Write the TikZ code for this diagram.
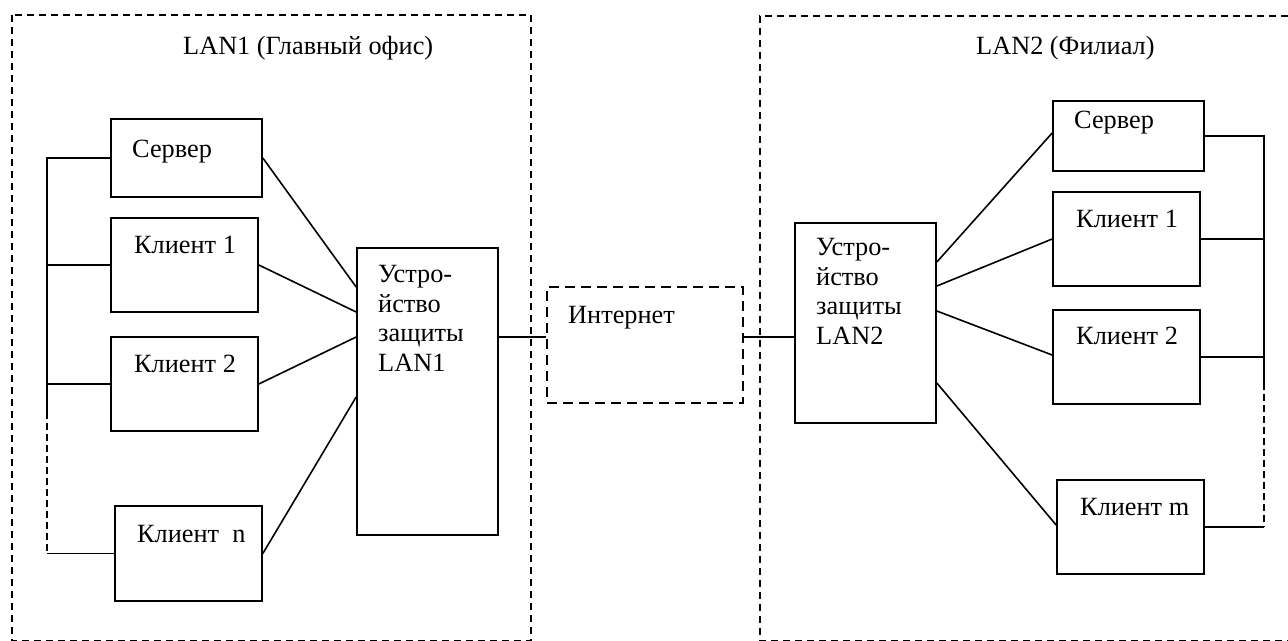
\documentclass[tikz,border=0pt]{standalone}
\usepackage{fontspec}
\setmainfont{Liberation Serif}
\begin{document}
\begin{tikzpicture}[x=1pt,y=-1pt,
  box/.style={draw, line width=1.7pt, inner sep=0pt, rectangle},
  netbox/.style={draw, line width=1.7pt, inner sep=0pt, rectangle, dash pattern=on 10pt off 6pt},
  frame/.style={line width=1.7pt, dash pattern=on 7pt off 5pt},
  wire/.style={line width=1.6pt},
  buslink/.style={line width=1.6pt, dash pattern=on 7pt off 4pt},
  lbl/.style={anchor=base west, inner sep=0pt, font=\fontsize{26.3}{29.5}\selectfont},
  mlbl/.style={lbl, align=left}]
\useasboundingbox (0,0) rectangle (1288,640);

% office networks
\draw[frame] (12,15) rectangle (531,641);
\draw[frame] (1300,16) -- (760,16) -- (760,641) -- (1300,641);
\node[lbl] (titleA) at (183,54) {LAN1 (Главный офис)};
\node[lbl] (titleB) at (976,54) {LAN2 (Филиал)};

% LAN1 hosts
\node[box, minimum width=151pt, minimum height=78pt] (srvA) at (186.5,158) {};
\node[box, minimum width=147pt, minimum height=94pt] (cliA1) at (184.5,265) {};
\node[box, minimum width=147pt, minimum height=94pt] (cliA2) at (184.5,384) {};
\node[box, minimum width=147pt, minimum height=95pt] (cliAn) at (188.5,553.5) {};
\node[lbl] (tSrvA) at (132,157) {Сервер};
\node[lbl] (tCliA1) at (134,253) {Клиент 1};
\node[lbl] (tCliA2) at (134,372) {Клиент 2};
\node[lbl] (tCliAn) at (137,542) {Клиент\ \ n};

% LAN1 firewall (anchor sits on the last line's baseline)
\node[box, minimum width=141pt, minimum height=287pt] (fwA) at (427.5,391.5) {};
\node[mlbl] (tFwA) at (378,371) {Устро-\\йство\\защиты\\LAN1};

% Internet
\node[netbox, minimum width=196pt, minimum height=116pt] (inet) at (645,345) {};
\node[lbl] (tInet) at (568,323) {Интернет};

% LAN2 firewall
\node[box, minimum width=141pt, minimum height=200pt] (fwB) at (865.5,323) {};
\node[mlbl] (tFwB) at (816,344) {Устро-\\йство\\защиты\\LAN2};

% LAN2 hosts
\node[box, minimum width=151pt, minimum height=70pt] (srvB) at (1128.5,136) {};
\node[box, minimum width=147pt, minimum height=94pt] (cliB1) at (1126.5,239) {};
\node[box, minimum width=147pt, minimum height=94pt] (cliB2) at (1126.5,357) {};
\node[box, minimum width=147pt, minimum height=94pt] (cliBm) at (1130.5,527) {};
\node[lbl] (tSrvB) at (1074,128.5) {Сервер};
\node[lbl] (tCliB1) at (1076,227) {Клиент 1};
\node[lbl] (tCliB2) at (1076,344.5) {Клиент 2};
\node[lbl] (tCliBm) at (1080,515) {Клиент m};

% bus lines
\coordinate (busA) at (47,0);
\coordinate (busB) at (1264,0);
\draw[wire] (srvA.west) -- (srvA.west -| busA) -- (cliA2.west -| busA) -- ++(0,28) coordinate (busAend);
\draw[wire] (cliA1.west) -- (cliA1.west -| busA);
\draw[wire] (cliA2.west) -- (cliA2.west -| busA);
\draw[buslink] (busAend) -- (cliAn.west -| busA);
\draw[wire] (cliAn.west -| busA) -- (cliAn.west);

\draw[wire] (srvB.east) -- (srvB.east -| busB) -- (cliB2.east -| busB) -- ++(0,26) coordinate (busBend);
\draw[wire] (cliB1.east) -- (cliB1.east -| busB);
\draw[wire] (cliB2.east) -- (cliB2.east -| busB);
\draw[buslink] (busBend) -- (cliBm.east -| busB);
\draw[wire] (cliBm.east -| busB) -- (cliBm.east);

% hosts to firewalls
\draw[wire] (srvA.east) -- ([yshift=104.5pt]fwA.west);
\draw[wire] (cliA1.east) -- ([yshift=79.5pt]fwA.west);
\draw[wire] (cliA2.east) -- ([yshift=54.5pt]fwA.west);
\draw[wire] (cliAn.east) -- ([yshift=-5.5pt]fwA.west);

\draw[wire] ([yshift=61pt]fwB.east) -- ([yshift=3pt]srvB.west);
\draw[wire] ([yshift=37pt]fwB.east) -- (cliB1.west);
\draw[wire] ([yshift=12pt]fwB.east) -- ([yshift=2pt]cliB2.west);
\draw[wire] ([yshift=-60pt]fwB.east) -- ([yshift=2pt]cliBm.west);

% firewalls to Internet
\coordinate (linkA) at ([yshift=8pt]inet.west);
\coordinate (linkB) at ([yshift=8pt]inet.east);
\draw[wire] (linkA -| fwA.east) -- (linkA);
\draw[wire] (linkB) -- (linkB -| fwB.west);
\end{tikzpicture}
\end{document}
